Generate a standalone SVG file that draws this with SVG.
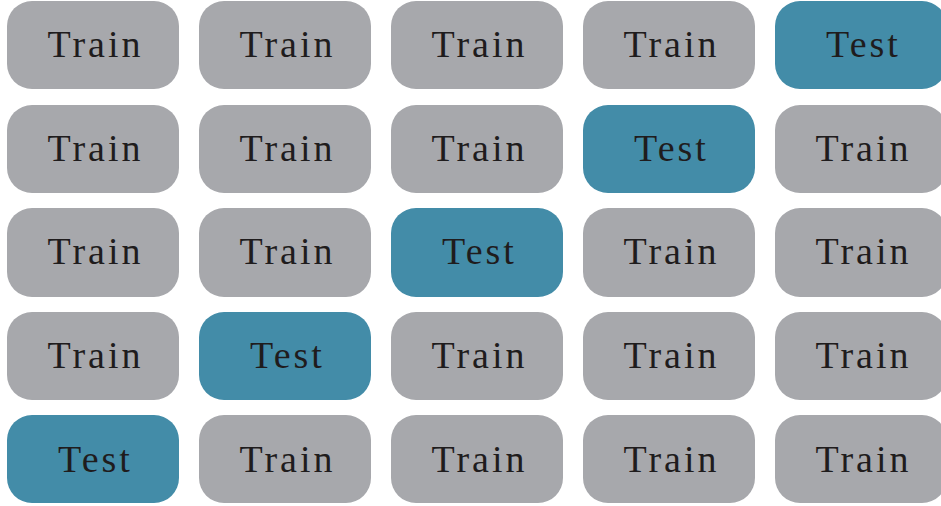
<svg xmlns="http://www.w3.org/2000/svg" width="941" height="506" viewBox="0 0 941 506">
  <style>
    .box { stroke: none; }
    .train { fill: #a7a8ac; }
    .test { fill: #438ca8; }
    text { font-family: "Liberation Serif", "Times New Roman", serif; font-size: 38px; letter-spacing: 3px; fill: #1f1c1d; text-anchor: middle; }
  </style>
  <rect width="941" height="506" fill="#ffffff"/>
  <!-- 5x5 cross-validation folds; one Test block per row on the anti-diagonal -->
  <g id="folds">
    <g id="r1c1"><rect class="box train" x="7" y="1" width="172" height="88" rx="25"/><text x="95.5" y="57">Train</text></g>
    <g id="r1c2"><rect class="box train" x="199" y="1" width="172" height="88" rx="25"/><text x="287.5" y="57">Train</text></g>
    <g id="r1c3"><rect class="box train" x="391" y="1" width="172" height="88" rx="25"/><text x="479.5" y="57">Train</text></g>
    <g id="r1c4"><rect class="box train" x="583" y="1" width="172" height="88" rx="25"/><text x="671.5" y="57">Train</text></g>
    <g id="r1c5"><rect class="box test" x="775" y="1" width="172" height="88" rx="25"/><text x="863.5" y="57">Test</text></g>

    <g id="r2c1"><rect class="box train" x="7" y="105" width="172" height="88" rx="25"/><text x="95.5" y="161">Train</text></g>
    <g id="r2c2"><rect class="box train" x="199" y="105" width="172" height="88" rx="25"/><text x="287.5" y="161">Train</text></g>
    <g id="r2c3"><rect class="box train" x="391" y="105" width="172" height="88" rx="25"/><text x="479.5" y="161">Train</text></g>
    <g id="r2c4"><rect class="box test" x="583" y="105" width="172" height="88" rx="25"/><text x="671.5" y="161">Test</text></g>
    <g id="r2c5"><rect class="box train" x="775" y="105" width="172" height="88" rx="25"/><text x="863.5" y="161">Train</text></g>

    <g id="r3c1"><rect class="box train" x="7" y="208" width="172" height="89" rx="25"/><text x="95.5" y="264">Train</text></g>
    <g id="r3c2"><rect class="box train" x="199" y="208" width="172" height="89" rx="25"/><text x="287.5" y="264">Train</text></g>
    <g id="r3c3"><rect class="box test" x="391" y="208" width="172" height="89" rx="25"/><text x="479.5" y="264">Test</text></g>
    <g id="r3c4"><rect class="box train" x="583" y="208" width="172" height="89" rx="25"/><text x="671.5" y="264">Train</text></g>
    <g id="r3c5"><rect class="box train" x="775" y="208" width="172" height="89" rx="25"/><text x="863.5" y="264">Train</text></g>

    <g id="r4c1"><rect class="box train" x="7" y="312" width="172" height="88" rx="25"/><text x="95.5" y="368">Train</text></g>
    <g id="r4c2"><rect class="box test" x="199" y="312" width="172" height="88" rx="25"/><text x="287.5" y="368">Test</text></g>
    <g id="r4c3"><rect class="box train" x="391" y="312" width="172" height="88" rx="25"/><text x="479.5" y="368">Train</text></g>
    <g id="r4c4"><rect class="box train" x="583" y="312" width="172" height="88" rx="25"/><text x="671.5" y="368">Train</text></g>
    <g id="r4c5"><rect class="box train" x="775" y="312" width="172" height="88" rx="25"/><text x="863.5" y="368">Train</text></g>

    <g id="r5c1"><rect class="box test" x="7" y="415" width="172" height="88" rx="25"/><text x="95.5" y="472">Test</text></g>
    <g id="r5c2"><rect class="box train" x="199" y="415" width="172" height="88" rx="25"/><text x="287.5" y="472">Train</text></g>
    <g id="r5c3"><rect class="box train" x="391" y="415" width="172" height="88" rx="25"/><text x="479.5" y="472">Train</text></g>
    <g id="r5c4"><rect class="box train" x="583" y="415" width="172" height="88" rx="25"/><text x="671.5" y="472">Train</text></g>
    <g id="r5c5"><rect class="box train" x="775" y="415" width="172" height="88" rx="25"/><text x="863.5" y="472">Train</text></g>
  </g>
</svg>
